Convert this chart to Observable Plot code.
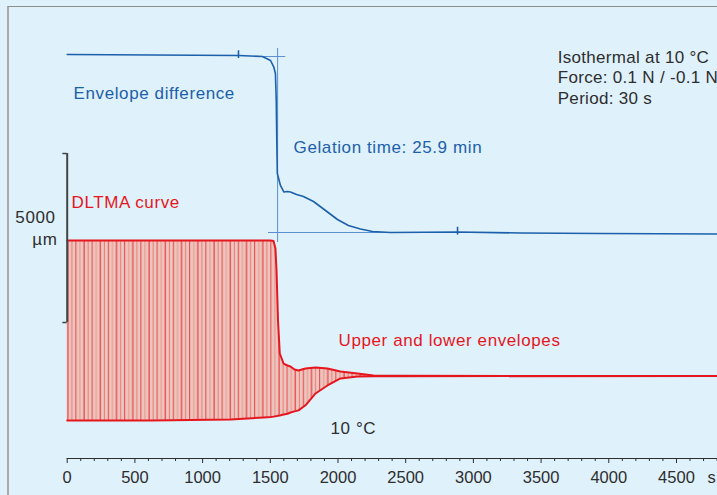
<!DOCTYPE html>
<html>
<head>
<meta charset="utf-8">
<script src="https://cdn.jsdelivr.net/npm/d3@7"></script>
<script src="https://cdn.jsdelivr.net/npm/@observablehq/plot@0.6"></script>
<style>
  html, body { margin: 0; padding: 0; }
  body { width: 717px; height: 495px; overflow: hidden; background: #dff1fb; font-family: "Liberation Sans", Arial, sans-serif; }
  #wrap { position: relative; width: 717px; height: 495px; }
  #border { position: absolute; left: 7px; top: 5.5px; width: 720px; height: 500px;
            border-top: 1.5px solid #8e8e8e; border-left: 2px solid #a9a9a9; box-sizing: border-box; }
  #chart { position: absolute; left: 0; top: 0; }
  #chart svg { background: transparent; overflow: visible; }
  #chart g[aria-label="text"] text { letter-spacing: 0.6px; }
</style>
</head>
<body>
<div id="wrap"><div id="border"></div><div id="chart"></div></div>
<script>
// ---- Data (time in s, displacement in µm) ----
// Envelope difference (upper - lower envelope), µm
const blueTime = [0, 1265, 1442, 1502, 1526, 1538, 1544, 1548, 1552, 1575, 1601, 1627, 1649, 1694, 1745, 1819, 1908, 1996, 2077, 2166, 2255, 2388, 2883, 3348, 3939, 4803];
const blueDiff = [5266, 5237, 5207, 5089, 4891, 4704, 3905, 2722, 1746, 1391, 1198, 1213, 1198, 1124, 1065, 917, 651, 385, 207, 104, 30, 0, 15, -15, -30, -44];
const blueMarks = [1265, 2883];

// DLTMA upper and lower envelopes, µm
const envTime  = [0, 615, 1206, 1450, 1502, 1524, 1538, 1546, 1557, 1570, 1598, 1627, 1649, 1679, 1708, 1760, 1834, 1922, 2018, 2144, 2262, 2462, 4803];
const envUpper = [5325, 5325, 5325, 5325, 5325, 5311, 5089, 4438, 2959, 1982, 1686, 1627, 1598, 1509, 1479, 1538, 1568, 1538, 1450, 1391, 1331, 1322, 1317];
const envLower = [0, 0, 30, 89, 104, 115, 125, 130, 140, 150, 175, 200, 237, 270, 300, 450, 800, 1036, 1243, 1300, 1310, 1311, 1317];

const gelationTime = 1554;          // 25.9 min
const scaleBar = [2899, 7899];      // 5000 µm scale bar
const majorTicks = d3.range(0, 4801, 500);
const minorTicks = d3.range(0, 4801, 100).filter(d => d % 500 !== 0);
const infoLines = ["Isothermal at 10 °C", "Force: 0.1 N / -0.1 N", "Period: 30 s"];

// ---- display constants ----
const BLUE_BASE = 5562;   // vertical offset of the envelope-difference trace
const Y0 = -1124, Y1 = 12426;
const pxPerUm = 458 / (Y1 - Y0);
const pxPerS = (717 - 66.7) / 4803;

const blue = blueTime.map((t, i) => ({t, v: blueDiff[i] + BLUE_BASE}));
const env = envTime.map((t, i) => ({t, hi: envUpper[i], lo: envLower[i]}));
const blueAt = d3.scaleLinear(blueTime, blueDiff);

const BLUE = "#1c60ab", XBLUE = "#5a90cf", RED = "#e5161d", DARK = "#2e2e2e";
const F = "\"Liberation Sans\", Arial, sans-serif";

const plot = Plot.plot({
  width: 717, height: 495,
  marginLeft: 66.7, marginRight: 0, marginTop: 0, marginBottom: 37,
  style: {fontFamily: F, fontSize: "16.5px", color: DARK, background: "transparent", overflow: "visible"},
  x: {domain: [0, 4803], ticks: majorTicks, tickFormat: d => String(d), tickSize: 5, tickPadding: 8, line: true, label: null},
  y: {domain: [Y0, Y1], axis: null},
  marks: [
    // DLTMA oscillation band
    Plot.areaY(env, {x: "t", y1: "lo", y2: "hi", fill: "#ecc4bc"}),
    Plot.line(env, {x: "t", y: "hi", stroke: RED, strokeWidth: 2}),
    Plot.line(env, {x: "t", y: "lo", stroke: RED, strokeWidth: 2}),
    // gelation crosshair
    Plot.ruleX([gelationTime], {y1: 11006, y2: 5266, stroke: XBLUE, strokeWidth: 1}),
    Plot.ruleY([blueDiff[0] + BLUE_BASE - 60], {x1: 1450, x2: 1614, stroke: XBLUE, strokeWidth: 1}),
    Plot.ruleY([BLUE_BASE], {x1: 1487, x2: 2905, stroke: XBLUE, strokeWidth: 1}),
    // envelope difference
    Plot.line(blue, {x: "t", y: "v", stroke: BLUE, strokeWidth: 1.6}),
    Plot.ruleX(blueMarks, {x: d => d, y1: d => blueAt(d) + BLUE_BASE - 90, y2: d => blueAt(d) + BLUE_BASE + 140, stroke: BLUE, strokeWidth: 1.6}),
    // scale bar
    Plot.ruleX([0], {y1: scaleBar[0], y2: scaleBar[1], stroke: "#444", strokeWidth: 2}),
    Plot.ruleY(scaleBar, {x1: -32, x2: 0, stroke: "#444", strokeWidth: 1.5}),
    // minor ticks
    Plot.ruleX(minorTicks, {x: d => d, y1: Y0, y2: Y0 - 3 / pxPerUm, stroke: DARK, strokeWidth: 1}),
    // annotations
    Plot.text(["Envelope difference"], {x: 47, y: 9686, text: d => d, textAnchor: "start", fill: BLUE, fontSize: 17}),
    Plot.text(["Gelation time: 25.9 min"], {x: 1672, y: 8068, text: d => d, textAnchor: "start", fill: BLUE, fontSize: 17}),
    Plot.text(infoLines, {x: 3623, y: (d, i) => 10751 - i * 612, text: d => d, textAnchor: "start", fill: DARK, fontSize: 17}),
    Plot.text(["DLTMA curve"], {x: 32, y: 6462, text: d => d, textAnchor: "start", fill: RED, fontSize: 17}),
    Plot.text(["Upper and lower envelopes"], {x: 2004, y: 2379, text: d => d, textAnchor: "start", fill: RED, fontSize: 17}),
    Plot.text(["10 °C"], {x: 1945, y: -225, text: d => d, textAnchor: "start", fill: DARK, fontSize: 17}),
    Plot.text(["5000"], {x: -86, y: 5997, text: d => d, textAnchor: "end", fill: DARK, fontSize: 17}),
    Plot.text(["µm"], {x: -72, y: 5367, text: d => d, textAnchor: "end", fill: DARK, fontSize: 17}),
    Plot.text(["s"], {x: 4729, y: -1704, text: d => d, textAnchor: "start", fill: DARK, fontSize: 16.5})
  ]
});

// striped fill for the dense 30 s oscillation (style only)
const ns = "http://www.w3.org/2000/svg";
const defs = document.createElementNS(ns, "defs");
const period = 30 * pxPerS;
const pat = document.createElementNS(ns, "pattern");
pat.setAttribute("id", "oscStripes");
pat.setAttribute("patternUnits", "userSpaceOnUse");
pat.setAttribute("x", "66.7");
pat.setAttribute("y", "0");
pat.setAttribute("width", String(period * 4));
pat.setAttribute("height", "20");
const bg = document.createElementNS(ns, "rect");
bg.setAttribute("width", String(period * 4)); bg.setAttribute("height", "20"); bg.setAttribute("fill", "#ecc6be");
pat.appendChild(bg);
[0.95, 0.45, 0.75, 0.3].forEach((op, i) => {
  const r = document.createElementNS(ns, "rect");
  r.setAttribute("x", String(i * period + 0.6)); r.setAttribute("width", "1"); r.setAttribute("height", "20");
  r.setAttribute("fill", RED); r.setAttribute("fill-opacity", String(op));
  pat.appendChild(r);
});
defs.appendChild(pat);
plot.appendChild(defs);
const areaG = plot.querySelector('g[aria-label="area"]');
if (areaG) {
  areaG.setAttribute("fill", "url(#oscStripes)");
  areaG.querySelectorAll("path").forEach(p => p.setAttribute("fill", "url(#oscStripes)"));
}
// slightly tighter spacing for the info block so it fits the right edge
plot.querySelectorAll("text").forEach(t => {
  if (infoLines.includes(t.textContent)) t.style.letterSpacing = "0.3px";
});

document.getElementById("chart").appendChild(plot);
</script>
</body>
</html>
